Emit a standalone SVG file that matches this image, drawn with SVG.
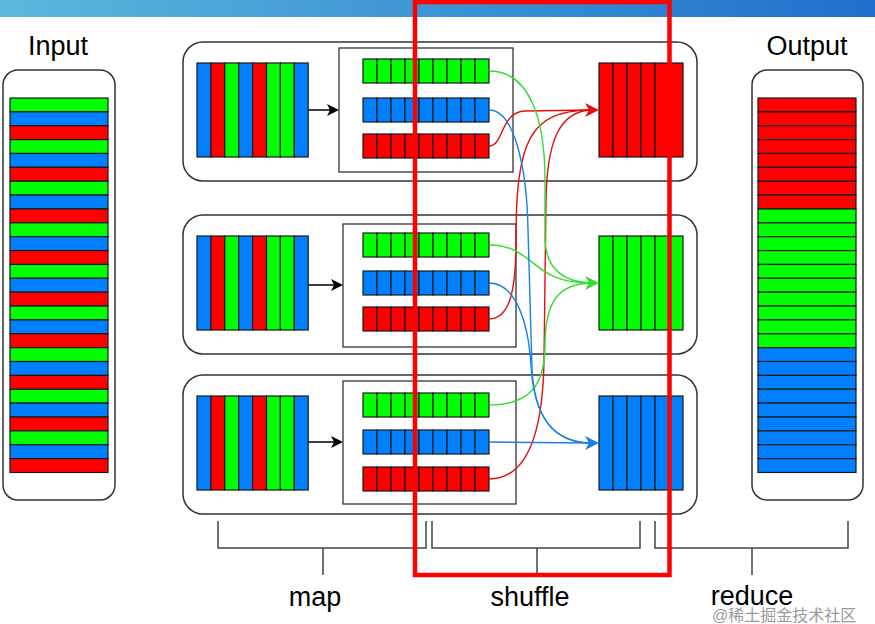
<svg xmlns="http://www.w3.org/2000/svg" width="875" height="624" viewBox="0 0 875 624">
<defs>
<linearGradient id="band" x1="0" y1="0" x2="1" y2="0">
<stop offset="0" stop-color="#5cb8dc"/>
<stop offset="1" stop-color="#1f6fcc"/>
</linearGradient>
<style>
.box{fill:#fff;stroke:#333;stroke-width:1.5}
.in{fill:#fff;stroke:#333;stroke-width:1.3}
.g{fill:#00ff00;stroke:#1a1a1a;stroke-width:1.2}
.b{fill:#007fff;stroke:#1a1a1a;stroke-width:1.2}
.r{fill:#ff0000;stroke:#1a1a1a;stroke-width:1.2}
.cg{fill:none;stroke:#33dd33;stroke-width:1.4}
.cb{fill:none;stroke:#1a80e6;stroke-width:1.4}
.cr{fill:none;stroke:#e01010;stroke-width:1.4}
.ag{fill:#33dd33}
.ab{fill:#1a80e6}
.ar{fill:#e01010}
.brace{fill:none;stroke:#444;stroke-width:1.5}
.lbl{font-family:"Liberation Sans",Arial,sans-serif;font-size:27px;fill:#000;text-anchor:middle}
</style>
</defs>
<rect x="0" y="0" width="875" height="624" fill="#fff"/>
<rect x="0" y="0" width="875" height="17" fill="url(#band)"/>

<g id="input">
<text class="lbl" x="58" y="55">Input</text>
<rect class="box" x="3" y="70" width="112" height="430" rx="15"/>
<g>
<rect class="g" x="10" y="98" width="98" height="13.87"/><rect class="b" x="10" y="111.87" width="98" height="13.87"/><rect class="r" x="10" y="125.74" width="98" height="13.87"/>
<rect class="g" x="10" y="139.61" width="98" height="13.87"/><rect class="b" x="10" y="153.48" width="98" height="13.87"/><rect class="r" x="10" y="167.35" width="98" height="13.87"/>
<rect class="g" x="10" y="181.22" width="98" height="13.87"/><rect class="b" x="10" y="195.09" width="98" height="13.87"/><rect class="r" x="10" y="208.96" width="98" height="13.87"/>
<rect class="g" x="10" y="222.83" width="98" height="13.87"/><rect class="b" x="10" y="236.7" width="98" height="13.87"/><rect class="r" x="10" y="250.57" width="98" height="13.87"/>
<rect class="g" x="10" y="264.44" width="98" height="13.87"/><rect class="b" x="10" y="278.31" width="98" height="13.87"/><rect class="r" x="10" y="292.18" width="98" height="13.87"/>
<rect class="g" x="10" y="306.05" width="98" height="13.87"/><rect class="b" x="10" y="319.92" width="98" height="13.87"/><rect class="r" x="10" y="333.79" width="98" height="13.87"/>
<rect class="g" x="10" y="347.66" width="98" height="13.87"/><rect class="b" x="10" y="361.53" width="98" height="13.87"/><rect class="r" x="10" y="375.4" width="98" height="13.87"/>
<rect class="g" x="10" y="389.27" width="98" height="13.87"/><rect class="b" x="10" y="403.14" width="98" height="13.87"/><rect class="r" x="10" y="417.01" width="98" height="13.87"/>
<rect class="g" x="10" y="430.88" width="98" height="13.87"/><rect class="b" x="10" y="444.75" width="98" height="13.87"/><rect class="r" x="10" y="458.62" width="98" height="13.87"/>
</g>
</g>

<g id="output">
<text class="lbl" x="807" y="55">Output</text>
<rect class="box" x="752" y="70" width="111" height="430" rx="15"/>
<g>
<rect class="r" x="758" y="98" width="98" height="13.87"/><rect class="r" x="758" y="111.87" width="98" height="13.87"/><rect class="r" x="758" y="125.74" width="98" height="13.87"/><rect class="r" x="758" y="139.61" width="98" height="13.87"/>
<rect class="r" x="758" y="153.48" width="98" height="13.87"/><rect class="r" x="758" y="167.35" width="98" height="13.87"/><rect class="r" x="758" y="181.22" width="98" height="13.87"/><rect class="r" x="758" y="195.09" width="98" height="13.87"/>
<rect class="g" x="758" y="208.96" width="98" height="13.87"/><rect class="g" x="758" y="222.83" width="98" height="13.87"/><rect class="g" x="758" y="236.7" width="98" height="13.87"/><rect class="g" x="758" y="250.57" width="98" height="13.87"/><rect class="g" x="758" y="264.44" width="98" height="13.87"/>
<rect class="g" x="758" y="278.31" width="98" height="13.87"/><rect class="g" x="758" y="292.18" width="98" height="13.87"/><rect class="g" x="758" y="306.05" width="98" height="13.87"/><rect class="g" x="758" y="319.92" width="98" height="13.87"/><rect class="g" x="758" y="333.79" width="98" height="13.87"/>
<rect class="b" x="758" y="347.66" width="98" height="13.87"/><rect class="b" x="758" y="361.53" width="98" height="13.87"/><rect class="b" x="758" y="375.4" width="98" height="13.87"/><rect class="b" x="758" y="389.27" width="98" height="13.87"/><rect class="b" x="758" y="403.14" width="98" height="13.87"/>
<rect class="b" x="758" y="417.01" width="98" height="13.87"/><rect class="b" x="758" y="430.88" width="98" height="13.87"/><rect class="b" x="758" y="444.75" width="98" height="13.87"/><rect class="b" x="758" y="458.62" width="98" height="13.87"/>
</g>
</g>

<g id="row1">
<rect class="box" x="183" y="42" width="514" height="139" rx="20"/>
<g>
<rect class="b" x="197" y="63" width="13.9" height="94"/><rect class="r" x="210.9" y="63" width="13.9" height="94"/><rect class="g" x="224.8" y="63" width="13.9" height="94"/><rect class="b" x="238.7" y="63" width="13.9" height="94"/>
<rect class="r" x="252.6" y="63" width="13.9" height="94"/><rect class="g" x="266.5" y="63" width="13.9" height="94"/><rect class="g" x="280.4" y="63" width="13.9" height="94"/><rect class="b" x="294.3" y="63" width="13.9" height="94"/>
</g>
<path d="M308,110 H330" stroke="#000" stroke-width="1.5" fill="none"/>
<polygon points="339,110 327,104 330,110 327,116" fill="#000"/>
<rect class="in" x="339" y="48" width="174" height="124"/>
<g>
<rect class="g" x="363" y="59" width="14" height="24"/><rect class="g" x="377" y="59" width="14" height="24"/><rect class="g" x="391" y="59" width="14" height="24"/><rect class="g" x="405" y="59" width="14" height="24"/><rect class="g" x="419" y="59" width="14" height="24"/><rect class="g" x="433" y="59" width="14" height="24"/><rect class="g" x="447" y="59" width="14" height="24"/><rect class="g" x="461" y="59" width="14" height="24"/><rect class="g" x="475" y="59" width="14" height="24"/>
<rect class="b" x="363" y="98" width="14" height="24"/><rect class="b" x="377" y="98" width="14" height="24"/><rect class="b" x="391" y="98" width="14" height="24"/><rect class="b" x="405" y="98" width="14" height="24"/><rect class="b" x="419" y="98" width="14" height="24"/><rect class="b" x="433" y="98" width="14" height="24"/><rect class="b" x="447" y="98" width="14" height="24"/><rect class="b" x="461" y="98" width="14" height="24"/><rect class="b" x="475" y="98" width="14" height="24"/>
<rect class="r" x="363" y="134" width="14" height="24"/><rect class="r" x="377" y="134" width="14" height="24"/><rect class="r" x="391" y="134" width="14" height="24"/><rect class="r" x="405" y="134" width="14" height="24"/><rect class="r" x="419" y="134" width="14" height="24"/><rect class="r" x="433" y="134" width="14" height="24"/><rect class="r" x="447" y="134" width="14" height="24"/><rect class="r" x="461" y="134" width="14" height="24"/><rect class="r" x="475" y="134" width="14" height="24"/>
</g>
<g>
<rect class="r" x="599" y="63" width="14" height="94"/><rect class="r" x="613" y="63" width="14" height="94"/><rect class="r" x="627" y="63" width="14" height="94"/><rect class="r" x="641" y="63" width="14" height="94"/><rect class="r" x="655" y="63" width="14" height="94"/><rect class="r" x="669" y="63" width="14" height="94"/>
</g>
</g>

<g id="row2">
<rect class="box" x="183" y="215" width="514" height="139" rx="20"/>
<g>
<rect class="b" x="197" y="236" width="13.9" height="94"/><rect class="r" x="210.9" y="236" width="13.9" height="94"/><rect class="g" x="224.8" y="236" width="13.9" height="94"/><rect class="b" x="238.7" y="236" width="13.9" height="94"/>
<rect class="r" x="252.6" y="236" width="13.9" height="94"/><rect class="g" x="266.5" y="236" width="13.9" height="94"/><rect class="g" x="280.4" y="236" width="13.9" height="94"/><rect class="b" x="294.3" y="236" width="13.9" height="94"/>
</g>
<path d="M308,285 H334" stroke="#000" stroke-width="1.5" fill="none"/>
<polygon points="343,285 331,279 334,285 331,291" fill="#000"/>
<rect class="in" x="343" y="224" width="173" height="123"/>
<g>
<rect class="g" x="363" y="233" width="14" height="24"/><rect class="g" x="377" y="233" width="14" height="24"/><rect class="g" x="391" y="233" width="14" height="24"/><rect class="g" x="405" y="233" width="14" height="24"/><rect class="g" x="419" y="233" width="14" height="24"/><rect class="g" x="433" y="233" width="14" height="24"/><rect class="g" x="447" y="233" width="14" height="24"/><rect class="g" x="461" y="233" width="14" height="24"/><rect class="g" x="475" y="233" width="14" height="24"/>
<rect class="b" x="363" y="271" width="14" height="24"/><rect class="b" x="377" y="271" width="14" height="24"/><rect class="b" x="391" y="271" width="14" height="24"/><rect class="b" x="405" y="271" width="14" height="24"/><rect class="b" x="419" y="271" width="14" height="24"/><rect class="b" x="433" y="271" width="14" height="24"/><rect class="b" x="447" y="271" width="14" height="24"/><rect class="b" x="461" y="271" width="14" height="24"/><rect class="b" x="475" y="271" width="14" height="24"/>
<rect class="r" x="363" y="307" width="14" height="24"/><rect class="r" x="377" y="307" width="14" height="24"/><rect class="r" x="391" y="307" width="14" height="24"/><rect class="r" x="405" y="307" width="14" height="24"/><rect class="r" x="419" y="307" width="14" height="24"/><rect class="r" x="433" y="307" width="14" height="24"/><rect class="r" x="447" y="307" width="14" height="24"/><rect class="r" x="461" y="307" width="14" height="24"/><rect class="r" x="475" y="307" width="14" height="24"/>
</g>
<g>
<rect class="g" x="599" y="236" width="14" height="94"/><rect class="g" x="613" y="236" width="14" height="94"/><rect class="g" x="627" y="236" width="14" height="94"/><rect class="g" x="641" y="236" width="14" height="94"/><rect class="g" x="655" y="236" width="14" height="94"/><rect class="g" x="669" y="236" width="14" height="94"/>
</g>
</g>

<g id="row3">
<rect class="box" x="183" y="375" width="514" height="139" rx="20"/>
<g>
<rect class="b" x="197" y="396" width="13.9" height="94"/><rect class="r" x="210.9" y="396" width="13.9" height="94"/><rect class="g" x="224.8" y="396" width="13.9" height="94"/><rect class="b" x="238.7" y="396" width="13.9" height="94"/>
<rect class="r" x="252.6" y="396" width="13.9" height="94"/><rect class="g" x="266.5" y="396" width="13.9" height="94"/><rect class="g" x="280.4" y="396" width="13.9" height="94"/><rect class="b" x="294.3" y="396" width="13.9" height="94"/>
</g>
<path d="M308,442 H334" stroke="#000" stroke-width="1.5" fill="none"/>
<polygon points="343,442 331,436 334,442 331,448" fill="#000"/>
<rect class="in" x="343" y="381" width="173" height="123"/>
<g>
<rect class="g" x="363" y="393" width="14" height="24"/><rect class="g" x="377" y="393" width="14" height="24"/><rect class="g" x="391" y="393" width="14" height="24"/><rect class="g" x="405" y="393" width="14" height="24"/><rect class="g" x="419" y="393" width="14" height="24"/><rect class="g" x="433" y="393" width="14" height="24"/><rect class="g" x="447" y="393" width="14" height="24"/><rect class="g" x="461" y="393" width="14" height="24"/><rect class="g" x="475" y="393" width="14" height="24"/>
<rect class="b" x="363" y="430" width="14" height="24"/><rect class="b" x="377" y="430" width="14" height="24"/><rect class="b" x="391" y="430" width="14" height="24"/><rect class="b" x="405" y="430" width="14" height="24"/><rect class="b" x="419" y="430" width="14" height="24"/><rect class="b" x="433" y="430" width="14" height="24"/><rect class="b" x="447" y="430" width="14" height="24"/><rect class="b" x="461" y="430" width="14" height="24"/><rect class="b" x="475" y="430" width="14" height="24"/>
<rect class="r" x="363" y="467" width="14" height="24"/><rect class="r" x="377" y="467" width="14" height="24"/><rect class="r" x="391" y="467" width="14" height="24"/><rect class="r" x="405" y="467" width="14" height="24"/><rect class="r" x="419" y="467" width="14" height="24"/><rect class="r" x="433" y="467" width="14" height="24"/><rect class="r" x="447" y="467" width="14" height="24"/><rect class="r" x="461" y="467" width="14" height="24"/><rect class="r" x="475" y="467" width="14" height="24"/>
</g>
<g>
<rect class="b" x="599" y="396" width="14" height="94"/><rect class="b" x="613" y="396" width="14" height="94"/><rect class="b" x="627" y="396" width="14" height="94"/><rect class="b" x="641" y="396" width="14" height="94"/><rect class="b" x="655" y="396" width="14" height="94"/><rect class="b" x="669" y="396" width="14" height="94"/>
</g>
</g>

<g id="connectors">
<path class="cr" d="M489,146 C504,146 500,112 525,111 L590,110"/>
<path class="cr" d="M489,319 C510,319 516,290 516,240 C516,140 530,111 590,110"/>
<path class="cr" d="M489,479 C528,479 543,430 544,360 L546,200 C547,140 560,112 590,110"/>
<path class="cg" d="M489,71 C530,71 545,120 545,180 L545,240 C546,270 565,282 590,283"/>
<path class="cg" d="M489,245 C535,245 530,283 590,283"/>
<path class="cg" d="M489,405 C530,405 545,385 545,345 C545,300 560,284 590,283"/>
<path class="cb" d="M489,110 C515,110 527,170 528,230 L532,370 C535,420 555,442 590,443"/>
<path class="cb" d="M489,283 C515,283 528,320 531,365 C534,420 555,442 590,443"/>
<path class="cb" d="M489,442 L590,443"/>
<polygon class="ar" points="599,110 585,103 589,110 585,117"/>
<polygon class="ag" points="599,283 585,276 589,283 585,290"/>
<polygon class="ab" points="599,443 585,436 589,443 585,450"/>
</g>

<g id="braces">
<path class="brace" d="M218,521 V548 H426 V521 M323,548 V575"/>
<path class="brace" d="M432,521 V548 H640 V521 M537,548 V575"/>
<path class="brace" d="M655,521 V548 H848 V521 M752,548 V575"/>
<text class="lbl" x="315" y="606">map</text>
<text class="lbl" x="530" y="606">shuffle</text>
<text class="lbl" x="752" y="605">reduce</text>
</g>

<rect id="highlight" x="415" y="2" width="254.5" height="573" fill="none" stroke="#ff0000" stroke-width="4.5"/>
<text x="712" y="621" font-family="'Liberation Sans','Noto Sans CJK SC',sans-serif" font-size="16" fill="#9a9a9a">@稀土掘金技术社区</text>
</svg>
